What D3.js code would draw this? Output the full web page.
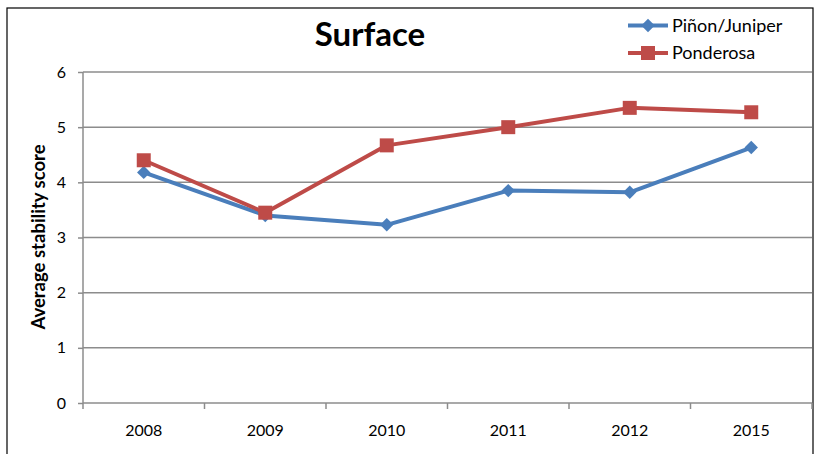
<!DOCTYPE html>
<html><head><meta charset="utf-8">
<script src="https://cdn.jsdelivr.net/npm/d3@7"></script>
<style>body{margin:0;background:#fff}</style>
</head><body>
<svg id="c" width="815" height="454"></svg>
<script>
const years = ["2008","2009","2010","2011","2012","2015"];
const pinonJuniper = [4.18, 3.40, 3.23, 3.85, 3.82, 4.63];
const ponderosa = [4.40, 3.45, 4.67, 5.00, 5.35, 5.27];
const yTicks = [0,1,2,3,4,5,6];
const seriesNames = ["Piñon/Juniper","Ponderosa"];

const svg = d3.select("#c");
const font = "Lato, 'Open Sans', sans-serif";
const L = 83, R = 812, T = 72, B = 403;
const x = d3.scaleBand().domain(years).range([L, R]);
const y = d3.scaleLinear().domain([0, 6]).range([B, T]);

svg.append("rect").attr("x",7).attr("y",8).attr("width",806).attr("height",460)
  .attr("fill","none").attr("stroke","#000").attr("stroke-width",1.2);

// gridlines
svg.append("g").selectAll("line").data(yTicks.filter(d=>d>0)).join("line")
  .attr("x1",L).attr("x2",R).attr("y1",d=>y(d)).attr("y2",d=>y(d))
  .attr("stroke","#8c8c8c").attr("stroke-width",1.5);

// y axis
const ya = svg.append("g").attr("transform",`translate(${L},0)`)
  .call(d3.axisLeft(y).tickValues(yTicks).tickSize(5).tickPadding(12).tickFormat(d3.format("d")));
ya.select(".domain").attr("stroke","#8c8c8c").attr("stroke-width",1.5).attr("d",`M-0,${T}V${B}`);
ya.selectAll(".tick line").attr("stroke","#8c8c8c").attr("stroke-width",1.5);
ya.selectAll("text").attr("font-family",font).attr("font-size",16).attr("fill","#000");

// x axis
const xa = svg.append("g").attr("transform",`translate(0,${B})`)
  .call(d3.axisBottom(x).tickSize(0));
xa.select(".domain").attr("stroke","#8c8c8c").attr("stroke-width",1.5).attr("d",`M${L},0H${R}`);
xa.selectAll("text").attr("font-family",font).attr("font-size",16).attr("fill","#000")
  .attr("y",33).attr("dy",null);
const bounds = years.map(d=>x(d)).concat([R]);
svg.append("g").selectAll("line").data(bounds).join("line")
  .attr("x1",d=>d).attr("x2",d=>d).attr("y1",B).attr("y2",B+6)
  .attr("stroke","#8c8c8c").attr("stroke-width",1.5);

const cx = d => x(d) + x.bandwidth()/2;
const line = d3.line().x((d,i)=>cx(years[i])).y(d=>y(d));

const colors = ["#4a7ebb","#be4b48"];
[pinonJuniper, ponderosa].forEach((s,k)=>{
  svg.append("path").datum(s).attr("d",line).attr("fill","none")
    .attr("stroke",colors[k]).attr("stroke-width",4).attr("stroke-linejoin","round");
});
const diamond = d3.symbol().type(d3.symbolSquare).size(90);
svg.append("g").selectAll("path").data(pinonJuniper).join("path")
  .attr("d",diamond).attr("transform",(d,i)=>`translate(${cx(years[i])},${y(d)}) rotate(45)`)
  .attr("fill",colors[0]);
const square = d3.symbol().type(d3.symbolSquare).size(196);
svg.append("g").selectAll("path").data(ponderosa).join("path")
  .attr("d",square).attr("transform",(d,i)=>`translate(${cx(years[i])},${y(d)})`)
  .attr("fill",colors[1]);

// title
svg.append("text").attr("x",370).attr("y",46).attr("text-anchor","middle")
  .attr("font-family",font).attr("font-weight","bold").attr("font-size",33).text("Surface");

// y label
svg.append("text").attr("transform","translate(45,237) rotate(-90)").attr("text-anchor","middle")
  .attr("font-family",font).attr("font-weight","bold").attr("font-size",18.5).text("Average stability score");

// legend
const lg = svg.append("g");
seriesNames.forEach((n,k)=>{
  const yy = 25.5 + k*27.5;
  lg.append("line").attr("x1",628).attr("x2",668).attr("y1",yy).attr("y2",yy)
    .attr("stroke",colors[k]).attr("stroke-width",4);
  lg.append("path").attr("d", k===0 ? diamond() : square())
    .attr("transform", k===0 ? `translate(648,${yy}) rotate(45)` : `translate(648,${yy})`)
    .attr("fill",colors[k]);
  lg.append("text").attr("x",672).attr("y",yy+6).attr("font-family",font).attr("font-size",18)
    .text(n);
});
</script>
</body></html>
